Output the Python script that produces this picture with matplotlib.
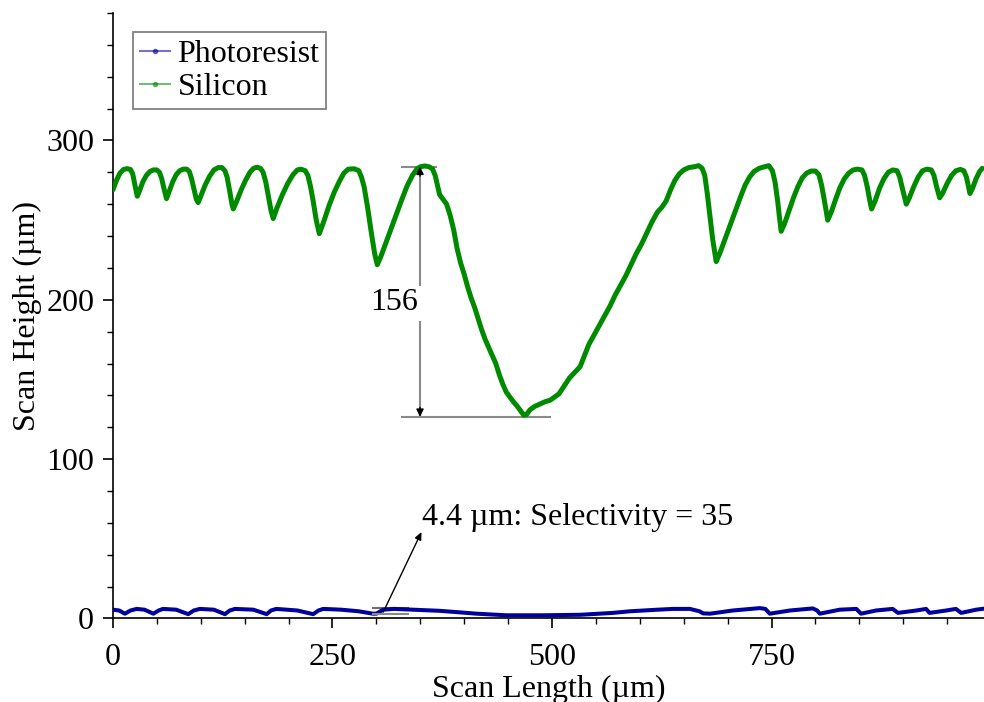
import matplotlib
matplotlib.use("Agg")
import matplotlib.pyplot as plt
from matplotlib.lines import Line2D
from matplotlib.ticker import MultipleLocator

plt.rcParams['font.family'] = ['Liberation Serif', 'DejaVu Serif']

# ---------------- data ----------------
si_x = [0, 4, 8, 12, 16, 20, 22.5, 25, 27.7,
        30, 34, 38, 42, 46, 50, 53, 55.5, 58, 61,
        64, 68, 72, 76, 80, 84, 87, 89.5, 92.5, 95, 97,
        100, 105, 110, 115, 120, 124, 127.5, 130, 133, 135.5, 137,
        141, 146, 151, 156, 160, 164, 168, 171, 174, 177, 180, 182.5,
        187, 193, 199, 205, 210, 214, 219, 222, 225, 228, 231.5, 235,
        240, 246, 252, 258, 263, 268, 275, 280, 283, 286, 290, 294, 298, 301,
        305, 311, 317, 323, 329, 335, 341, 346, 350, 355, 360, 364, 367, 369.5, 372,
        376, 380, 384, 388, 392, 396, 400, 404, 408, 412, 416, 420, 424, 428, 432,
        436, 440, 444, 448, 452, 456, 460, 464, 468, 471, 475, 480, 486, 492, 498,
        503, 508, 514, 520, 526, 532, 537, 542, 548, 554, 560, 566, 572, 578, 584,
        590, 596, 602, 608, 614, 620, 625, 630, 635, 640, 645, 650, 656, 662, 667,
        671, 674, 677, 680, 683, 687,
        691, 697, 703, 709, 715, 720, 725, 730, 736, 742, 747, 751, 754, 757, 759, 761,
        765, 770, 775, 780, 785, 790, 795, 800, 804, 807, 810, 814,
        818, 823, 828, 833, 838, 843, 848, 853, 856, 859, 862, 864,
        868, 873, 878, 883, 888, 893, 896, 899, 903.5,
        907, 912, 917, 922, 927, 932, 935, 938, 941.5,
        945, 950, 955, 960, 965, 969, 972, 974, 976,
        979, 983, 987, 990]
si_y = [269, 275, 279.5, 281.8, 282.3, 281.8, 279, 272, 265,
        268, 274, 278, 280.5, 281.5, 281.5, 280, 276, 270, 263.5,
        268, 274, 278.5, 281, 282, 282, 280.5, 276, 269, 263, 261,
        265, 272, 277.5, 281.5, 283, 283, 281, 277, 268, 260, 257,
        262, 269, 275, 280, 282.5, 283.2, 282.5, 280, 274, 265, 256, 251,
        258, 266, 273, 278.5, 281.5, 282, 281, 278, 271, 262, 250, 241.5,
        249, 259, 267.5, 274.5, 279.5, 282, 282.2, 281, 277, 271, 258, 243, 229, 222,
        227, 236, 245, 254, 263, 271.5, 278, 282, 283.5, 284, 283.5, 282, 278, 272, 266,
        263, 260, 253, 244, 232, 223, 216, 208, 201, 195, 188, 181, 175, 170, 165,
        160, 153, 147, 142, 139, 136, 133.5, 130.5, 127.5, 128, 131, 133, 134.5, 136, 137,
        139, 141, 146, 151, 154.5, 158, 165, 172, 178, 184, 190, 196, 203, 209, 215,
        222, 229, 235, 242, 249, 255, 258, 262, 269, 275, 279, 281.5, 283, 283.5, 284.2,
        282.5, 278, 266, 252, 238, 224,
        229, 238, 247, 256, 265, 272, 277, 280.5, 282.5, 283.5, 284.2, 281, 274, 262, 252, 243,
        248, 256, 264, 271, 276.5, 279.5, 280.8, 280.8, 278.5, 272, 263, 250,
        255, 263, 270.5, 276, 279.5, 281.5, 282, 281.5, 278, 271, 262, 257,
        262, 270, 276, 280, 281.5, 281, 277, 270, 260,
        264, 271, 277, 281, 282, 281.5, 278, 271, 264,
        267, 273, 278, 281, 281.8, 281, 277, 272, 266.7,
        270, 276, 280.5, 282.5]

pr_x = [0, 7, 13.6, 20, 27, 36, 46, 52, 57, 72, 85.7, 92, 99, 115, 127.5, 133, 139, 160, 175,
        180, 186, 210, 228, 234, 239.5, 260, 280, 296, 300, 307.7, 320, 342, 372, 391, 414,
        448, 490, 532, 569.6, 588.6, 620, 638, 657, 668, 672, 680, 706, 736.6, 743, 748, 771,
        797, 802, 805, 827.6, 846.6, 852, 869, 888, 894, 915, 926, 930, 949, 960, 966, 983, 990]
pr_y = [5.5, 5, 3, 5, 6, 5.5, 3, 5, 6, 5.5, 2.7, 5, 6, 5.5, 2.7, 5, 6, 5.5, 2.7, 5, 6, 5, 2.7,
        5, 6, 5.5, 4.5, 3, 3, 5.5, 6, 5.5, 4.8, 4, 3, 2, 2, 2.3, 3.5, 4.5, 5.5, 6, 6, 4.5, 3.2,
        3, 5, 6.5, 6, 3, 5, 6.3, 5, 3, 5.5, 6, 3, 5, 6, 3.5, 5, 6, 3.5, 5, 6, 3.5, 5.5, 6]

series_names = ["Photoresist", "Silicon"]
x_ticks = [0, 250, 500, 750]
y_ticks = [0, 100, 200, 300]

# step height annotation (silicon)
step_x = 349.7
step_top = 283.6
step_bottom = 126.5
step_label = "156"
# photoresist annotation
pr_label = "4.4 \u00b5m: Selectivity = 35"

green = "#008a00"
navy = "#00009c"
FS = 23

# ---------------- figure ----------------
fig = plt.figure(figsize=(9.84, 7.02), dpi=100)
ax = fig.add_axes([0.1148, 0.119, 0.8852, 0.8625])

ax.plot(pr_x, pr_y, color=navy, lw=2.9, solid_joinstyle='round', zorder=3)
ax.plot(si_x, si_y, color=green, lw=3.6, solid_joinstyle='round', solid_capstyle='round', zorder=3)

ax.set_xlim(0, 992)
ax.set_ylim(0, 380)

for s in ['top', 'right']:
    ax.spines[s].set_visible(False)
for s in ['left', 'bottom']:
    ax.spines[s].set_linewidth(1.2)

ax.set_xticks(x_ticks)
ax.set_yticks(y_ticks)
ax.xaxis.set_minor_locator(MultipleLocator(50))
ax.yaxis.set_minor_locator(MultipleLocator(20))
ax.tick_params(which='major', direction='out', length=7.5, width=1.2, labelsize=FS, pad=6)
ax.tick_params(axis='x', which='major', pad=10)
ax.tick_params(which='minor', direction='out', length=4, width=1.0)

ax.set_xlabel("Scan Length (\u00b5m)", fontsize=FS, labelpad=2)
ax.set_ylabel("Scan Height (\u00b5m)", fontsize=FS, labelpad=3)

# 156 dimension
gray = "#8a8a8a"
ax.plot([329, 368], [step_top, step_top], color=gray, lw=1.5, zorder=2)
ax.plot([329, 497.5], [step_bottom, step_bottom], color=gray, lw=1.5, zorder=2)
ax.plot([step_x, step_x], [step_top, 209.5], color=gray, lw=1.5, zorder=2)
ax.plot([step_x, step_x], [186.3, step_bottom], color=gray, lw=1.5, zorder=2)
head = dict(arrowstyle='-|>,head_length=0.45,head_width=0.22', color='black', lw=1,
            shrinkA=0, shrinkB=0)
ax.annotate('', xy=(step_x, step_top), xytext=(step_x, step_top - 6), arrowprops=head, zorder=4)
ax.annotate('', xy=(step_x, step_bottom), xytext=(step_x, step_bottom + 6), arrowprops=head, zorder=4)
ax.text(320.5, 198, step_label, fontsize=23, ha='center', va='center')

# photoresist thickness annotation
ax.plot([296.5, 336.3], [6.8, 6.8], color="#707070", lw=1.5, zorder=2)
ax.plot([296.5, 336.3], [2.6, 2.6], color=gray, lw=1.5, zorder=4)
ax.annotate('', xy=(351.4, 54.3), xytext=(307.8, 4),
            arrowprops=dict(arrowstyle='-|>,head_length=0.45,head_width=0.2', color='black',
                            lw=1, shrinkA=0, shrinkB=0), zorder=5)
ax.text(351.6, 58.7, pr_label, fontsize=FS, ha='left', va='baseline')

# legend
handles = [Line2D([], [], color=navy, lw=1.5, alpha=0.55, marker='o', ms=3,
                  markerfacecolor=navy, markeredgecolor=navy),
           Line2D([], [], color=green, lw=1.5, alpha=0.55, marker='o', ms=3,
                  markerfacecolor=green, markeredgecolor=green)]
leg = ax.legend(handles, series_names, loc='upper left', bbox_to_anchor=(0.023, 0.968),
                borderaxespad=0, fontsize=FS, frameon=True, fancybox=False,
                handlelength=0.95, handletextpad=0.22, labelspacing=0.12,
                borderpad=0.22, numpoints=1)
leg.get_frame().set_edgecolor('#555555')
leg.get_frame().set_linewidth(1.2)

fig.savefig("out.png", dpi=100)
